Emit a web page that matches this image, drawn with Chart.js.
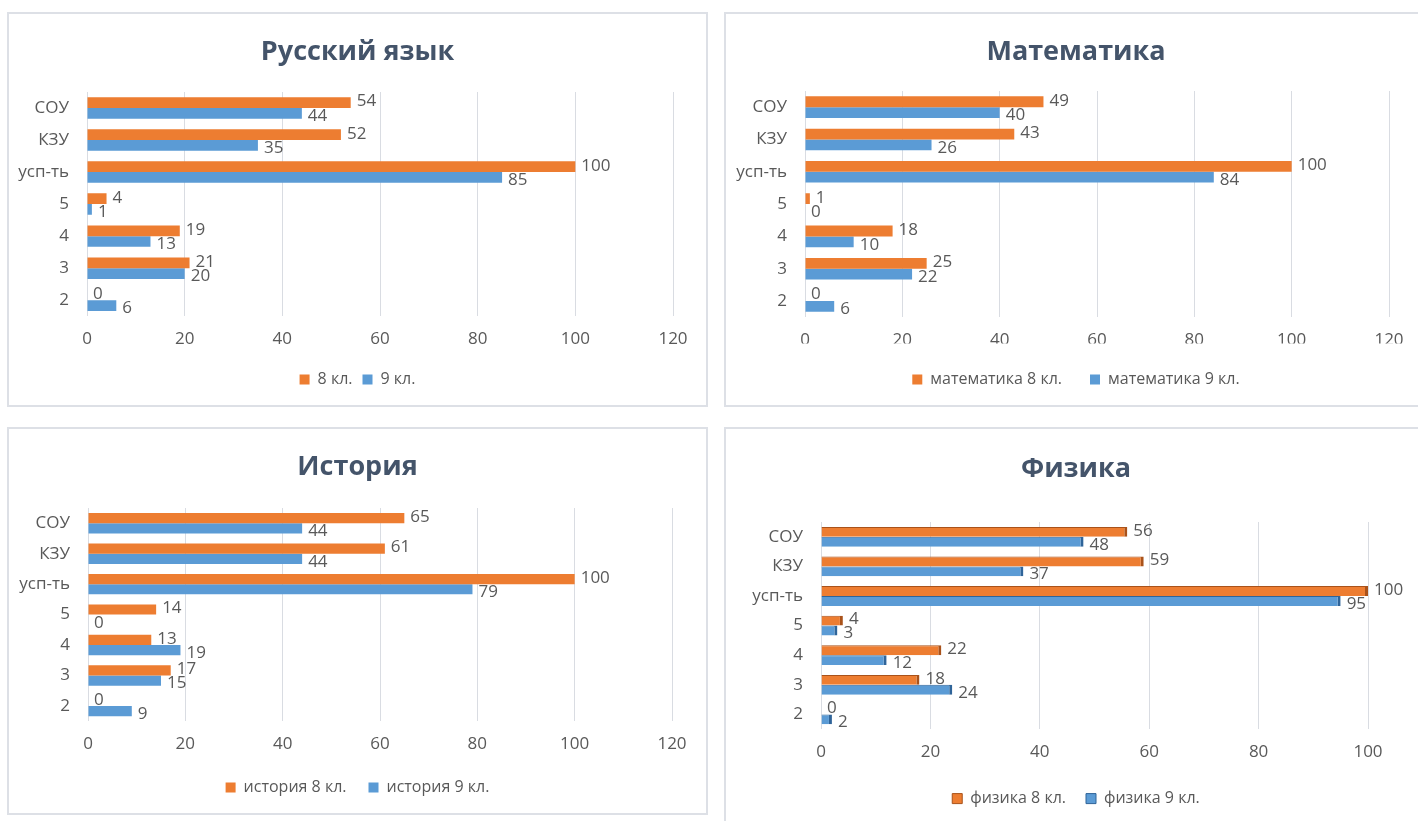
<!DOCTYPE html>
<html>
<head>
<meta charset="utf-8">
<script src="https://cdn.jsdelivr.net/npm/chart.js@4/dist/chart.umd.min.js"></script>
<style>
  body { margin: 0; background: #fff; width: 1418px; height: 821px; overflow: hidden; position: relative; }
  .panel { position: absolute; border: 2px solid #dde0e6; box-sizing: border-box; background: #fff; }
  .panel canvas { position: absolute; left: 0; top: 0; }
</style>
</head>
<body>
<div class="panel" id="p1" style="left:7px;top:12px;width:701px;height:395px"><canvas id="c1"></canvas></div>
<div class="panel" id="p2" style="left:724px;top:12px;width:704px;height:395px"><canvas id="c2"></canvas></div>
<div class="panel" id="p3" style="left:7px;top:427px;width:701px;height:388px"><canvas id="c3"></canvas></div>
<div class="panel" id="p4" style="left:724px;top:427px;width:704px;height:404px"><canvas id="c4"></canvas></div>
<script>
var categories = ['СОУ', 'КЗУ', 'усп-ть', '5', '4', '3', '2'];
var xTicks = [0, 20, 40, 60, 80, 100, 120];

var rus8 = [54, 52, 100, 4, 19, 21, 0];
var rus9 = [44, 35, 85, 1, 13, 20, 6];
var mat8 = [49, 43, 100, 1, 18, 25, 0];
var mat9 = [40, 26, 84, 0, 10, 22, 6];
var ist8 = [65, 61, 100, 14, 13, 17, 0];
var ist9 = [44, 44, 79, 0, 19, 15, 9];
var fiz8 = [56, 59, 100, 4, 22, 18, 0];
var fiz9 = [48, 37, 95, 3, 12, 24, 2];

var orange = '#ED7D31';
var blue = '#5B9BD5';
var grey = '#595959';
var FONT = "'Open Sans', sans-serif";

// подписи значений справа от столбиков
var valueLabels = {
    id: 'valueLabels',
    afterDatasetsDraw: function (chart) {
        var c = chart.ctx;
        c.save();
        c.font = '17px ' + FONT;
        c.fillStyle = grey;
        c.textAlign = 'left';
        c.textBaseline = 'middle';
        chart.data.datasets.forEach(function (ds, i) {
            chart.getDatasetMeta(i).data.forEach(function (bar, j) {
                c.fillText(String(ds.data[j]), bar.x + 6, bar.y + (i === 0 ? -1 : 3));
            });
        });
        c.restore();
    }
};

function makeChart(id, title, name8, name9, d8, d9, g) {
    var panel = document.getElementById('c' + id).parentNode;
    var w = panel.clientWidth, h = panel.clientHeight;
    var lh = 16 * 1.2;
    var side = w - g.right;
    var titleTop = g.titleC - 16.2;
    var titleBottom = g.top - (g.titleC + 16.2);
    var xH = g.legendC - lh / 2 - g.lp - g.bottom;
    var padBottom = h - (g.bottom + xH + lh + g.lp + 10);

    var ds8 = { label: name8, data: d8, backgroundColor: orange, categoryPercentage: 0.67, barPercentage: 1 };
    var ds9 = { label: name9, data: d9, backgroundColor: blue, categoryPercentage: 0.67, barPercentage: 1 };
    if (g.threeD) {
        ds8.borderColor = '#A9521A';
        ds9.borderColor = '#2F6499';
        ds8.borderWidth = { right: 3, top: 1 };
        ds9.borderWidth = { right: 3, top: 1 };
        ds8.borderSkipped = 'left';
        ds9.borderSkipped = 'left';
    }

    return new Chart(document.getElementById('c' + id), {
        type: 'bar',
        data: { labels: categories, datasets: [ds8, ds9] },
        plugins: [valueLabels],
        options: {
            indexAxis: 'y',
            responsive: true,
            maintainAspectRatio: false,
            animation: false,
            layout: { padding: { left: 0, right: 0, top: 0, bottom: padBottom } },
            plugins: {
                title: {
                    display: true, text: title, color: '#44546A',
                    font: { family: FONT, size: 27, weight: 'bold' },
                    padding: { top: titleTop, bottom: titleBottom }
                },
                legend: {
                    position: 'bottom',
                    labels: {
                        color: grey, font: { family: FONT, size: 16 },
                        boxWidth: 10, boxHeight: 10, padding: g.lp
                    }
                },
                tooltip: { enabled: false }
            },
            scales: {
                x: {
                    min: 0, max: g.max,
                    afterBuildTicks: function (axis) {
                        axis.ticks = xTicks.filter(function (v) { return v <= g.max; }).map(function (v) { return { value: v }; });
                    },
                    afterFit: function (axis) { axis.height = xH; },
                    grid: { color: '#D9DCE2', drawTicks: false },
                    border: { display: false },
                    ticks: { color: grey, font: { family: FONT, size: 17 }, padding: 13, maxRotation: 0 }
                },
                y: {
                    afterFit: function (axis) { axis.width = g.left; },
                    grid: { display: false },
                    border: { display: false },
                    ticks: { color: grey, font: { family: FONT, size: 17 }, padding: 10 }
                },
                // пустая ось справа, чтобы заголовок и легенда стояли по центру рамки
                yRight: {
                    type: 'category', axis: 'y', position: 'right',
                    afterFit: function (axis) { axis.width = side; },
                    grid: { display: false },
                    border: { display: false },
                    ticks: { display: false }
                }
            }
        }
    });
}

makeChart(1, 'Русский язык', '8 кл.', '9 кл.', rus8, rus9,
    { left: 78, right: 664, top: 78, bottom: 299, titleC: 38, legendC: 364, lp: 10, max: 120 });
makeChart(2, 'Математика', 'математика 8 кл.', 'математика 9 кл.', mat8, mat9,
    { left: 79, right: 663, top: 77, bottom: 300, titleC: 38, legendC: 364, lp: 28, max: 120 });
makeChart(3, 'История', 'история 8 кл.', 'история 9 кл.', ist8, ist9,
    { left: 79, right: 663, top: 79, bottom: 289, titleC: 38, legendC: 357, lp: 22, max: 120 });
makeChart(4, 'Физика', 'физика 8 кл.', 'физика 9 кл.', fiz8, fiz9,
    { left: 95, right: 642, top: 93, bottom: 297, titleC: 40, legendC: 368, lp: 20, max: 100, threeD: true });
</script>
</body>
</html>
